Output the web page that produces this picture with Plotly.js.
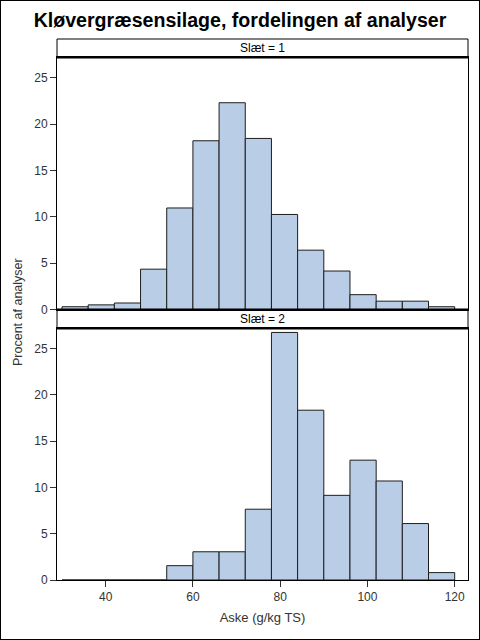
<!DOCTYPE html>
<html>
<head>
<meta charset="utf-8">
<script src="https://cdn.plot.ly/plotly-3.0.1.min.js"></script>
<style>
html,body{margin:0;padding:0;background:#fff;}
#wrap{position:relative;width:480px;height:640px;border:1px solid #000;box-sizing:border-box;overflow:hidden;}
#chart{position:absolute;left:-1px;top:-1px;width:480px;height:640px;}
</style>
</head>
<body>
<div id="wrap"><div id="chart"></div></div>
<script>
// Bin centres (bin width 6, edges 30..120)
const binCenters = [33, 39, 45, 51, 57, 63, 69, 75, 81, 87, 93, 99, 105, 111, 117];
const binWidth = 6;
// Percent of analyses per bin
const slaet1 = [0.3, 0.5, 0.7, 4.35, 10.95, 18.2, 22.3, 18.45, 10.25, 6.4, 4.15, 1.6, 0.9, 0.9, 0.3];
const slaet2 = [0, 0, 0, 0, 1.55, 3.05, 3.05, 7.65, 26.75, 18.35, 9.15, 12.95, 10.7, 6.1, 0.8];
const panelLabels = ["Slæt = 1", "Slæt = 2"];
const xTicks = [40, 60, 80, 100, 120];
const yTicks = [0, 5, 10, 15, 20, 25];

const fillColor = "#B9CEE6";
const edgeColor = "#1e1e1e";
const fontFam = "Liberation Sans, Arial, sans-serif";

function barTrace(vals, xa, ya) {
  return {
    type: "bar", x: binCenters, y: vals, width: binCenters.map(() => binWidth),
    xaxis: xa, yaxis: ya,
    marker: {color: fillColor, line: {color: edgeColor, width: 1}},
    hoverinfo: "x+y", showlegend: false
  };
}

const data = [barTrace(slaet1, "x2", "y2"), barTrace(slaet2, "x", "y")];

// paper: top=39px, bottom=580px (height 541)
const H = 541;
const f = px => (580 - px) / H;
const bottomDom = [0, f(328.3)];
const strip2 = [f(328.3), f(309.5)];
const topDom = [f(309.5), f(57.3)];
const strip1 = [f(57.3), 1];

const yCommon = {
  range: [0, 27.2], tickvals: yTicks, ticks: "outside", ticklen: 6, tickcolor: "#333",
  showline: true, linecolor: "#000", linewidth: 1, mirror: true, showgrid: false, zeroline: false,
  tickfont: {family: fontFam, size: 12, color: "#333"}, fixedrange: true
};
const xRange = [28.85, 123.05];

const layout = {
  width: 480, height: 640,
  margin: {l: 57, r: 12, t: 39, b: 60},
  paper_bgcolor: "#fff", plot_bgcolor: "#fff",
  bargap: 0,
  title: {text: "<b>Kløvergræsensilage, fordelingen af analyser</b>", x: 0.5, xref: "container", y: 1 - 20/640, yref: "container", yanchor: "middle",
          font: {family: fontFam, size: 19.6, color: "#000"}},
  xaxis: {
    domain: [0, 1], anchor: "y", range: xRange, tickvals: xTicks, ticks: "outside", ticklen: 6, tickcolor: "#333",
    showline: true, linecolor: "#000", linewidth: 1, mirror: true, showgrid: false, zeroline: false,
    tickfont: {family: fontFam, size: 12, color: "#333"},
    title: {text: "Aske (g/kg TS)", font: {family: fontFam, size: 13, color: "#333"}, standoff: 9}
  },
  yaxis: Object.assign({}, yCommon, {domain: bottomDom, anchor: "x"}),
  xaxis2: {
    domain: [0, 1], anchor: "y2", range: xRange, showticklabels: false, ticks: "",
    showline: true, linecolor: "#000", linewidth: 1, mirror: true, showgrid: false, zeroline: false
  },
  yaxis2: Object.assign({}, yCommon, {domain: topDom, anchor: "x2"}),
  shapes: [
    {type: "rect", xref: "paper", yref: "paper", x0: 0, x1: 1, y0: strip1[0], y1: strip1[1], line: {color: "#000", width: 1}, fillcolor: "#fff", layer: "below"},
    {type: "line", xref: "paper", yref: "paper", x0: 0, x1: 1, y0: strip1[0], y1: strip1[0], line: {color: "#000", width: 2.5}},
    {type: "rect", xref: "paper", yref: "paper", x0: 0, x1: 1, y0: strip2[0], y1: strip2[1], line: {color: "#000", width: 1}, fillcolor: "#fff", layer: "below"},
    {type: "line", xref: "paper", yref: "paper", x0: 0, x1: 1, y0: strip2[0], y1: strip2[0], line: {color: "#000", width: 2.5}},
    {type: "line", xref: "paper", yref: "paper", x0: 0, x1: 1, y0: strip2[1], y1: strip2[1], line: {color: "#000", width: 2}}
  ],
  annotations: [
    {text: panelLabels[0], xref: "paper", yref: "paper", x: 0.5, y: (strip1[0] + strip1[1]) / 2, showarrow: false, yanchor: "middle",
     font: {family: fontFam, size: 12, color: "#000"}},
    {text: panelLabels[1], xref: "paper", yref: "paper", x: 0.5, y: (strip2[0] + strip2[1]) / 2, showarrow: false, yanchor: "middle",
     font: {family: fontFam, size: 12, color: "#000"}},
    {text: "Procent af analyser", xref: "paper", yref: "paper", x: -39/411, xanchor: "center", y: f(312), yanchor: "middle", textangle: -90, showarrow: false,
     font: {family: fontFam, size: 12.5, color: "#333"}}
  ]
};

Plotly.newPlot("chart", data, layout, {staticPlot: true, displayModeBar: false});
</script>
</body>
</html>
